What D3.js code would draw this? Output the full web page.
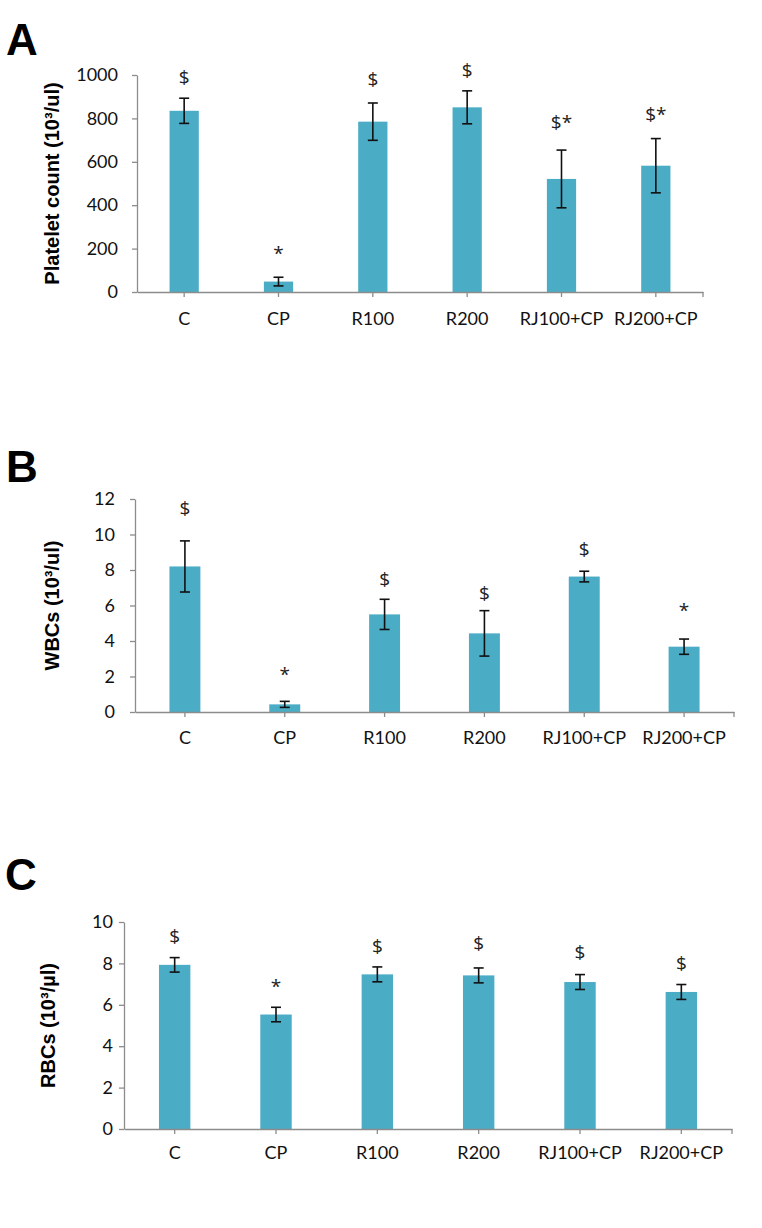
<!DOCTYPE html>
<html lang="en">
<head>
<meta charset="UTF-8">
<title>Platelets, WBCs and RBCs</title>
<script src="https://cdn.jsdelivr.net/npm/d3@7"></script>
<style>
  body { margin: 0; background: #fff; }
  svg { display: block; }
</style>
</head>
<body>
<script>
// groups on every x axis
const categories = ["C", "CP", "R100", "R200", "RJ100+CP", "RJ200+CP"];

// panel A: platelet count
const plateletMean = [835, 48, 785, 851, 521, 582];
const plateletErr = [58, 20, 86, 76, 133, 125];
const plateletMarks = ["$", "*", "$", "$", "$*", "$*"];
const plateletMarkAt = [991, 194, 982, 1023, 783, 820];
const plateletTicks = [0, 200, 400, 600, 800, 1000];

// panel B: WBCs
const wbcMean = [8.2, 0.43, 5.5, 4.43, 7.63, 3.68];
const wbcErr = [1.44, 0.17, 0.85, 1.28, 0.3, 0.43];
const wbcMarks = ["$", "*", "$", "$", "$", "*"];
const wbcMarkAt = [11.5, 2.36, 7.5, 6.7, 9.19, 5.92];
const wbcTicks = [0, 2, 4, 6, 8, 10, 12];

// panel C: RBCs
const rbcMean = [7.93, 5.53, 7.47, 7.42, 7.1, 6.62];
const rbcErr = [0.35, 0.35, 0.36, 0.36, 0.36, 0.36];
const rbcMarks = ["$", "*", "$", "$", "$", "$"];
const rbcMarkAt = [9.3, 7.07, 8.82, 8.95, 8.51, 7.98];
const rbcTicks = [0, 2, 4, 6, 8, 10];

const width = 762, height = 1228;
const barColor = "#4BACC6";
const axisColor = "#8C8C8C";

const svg = d3.select("body").append("svg")
    .attr("width", width)
    .attr("height", height);

const panels = [
    {letter: "A", letterX: 6, letterY: 55, title: "Platelet count (10³/ul)", titleX: 52,
     left: 137, right: 703, top: 75, bottom: 292, pad: 14, labelPad: 15,
     mean: plateletMean, err: plateletErr, marks: plateletMarks, markAt: plateletMarkAt, ticks: plateletTicks},
    {letter: "B", letterX: 6, letterY: 482, title: "WBCs (10³/ul)", titleX: 52,
     left: 135, right: 734, top: 499, bottom: 712, pad: 15, labelPad: 14,
     mean: wbcMean, err: wbcErr, marks: wbcMarks, markAt: wbcMarkAt, ticks: wbcTicks},
    {letter: "C", letterX: 5, letterY: 890, title: "RBCs (10³/µl)", titleX: 48,
     left: 124, right: 732, top: 922, bottom: 1129, pad: 6, labelPad: 12,
     mean: rbcMean, err: rbcErr, marks: rbcMarks, markAt: rbcMarkAt, ticks: rbcTicks}
];

panels.forEach(p => {
    const x = d3.scaleBand().domain(categories).range([p.left, p.right]);
    const y = d3.scaleLinear().domain([0, d3.max(p.ticks)]).range([p.bottom, p.top]);
    const barW = x.bandwidth() * 0.31;
    const cx = c => x(c) + x.bandwidth() / 2;
    const rows = categories.map((c, i) => ({c, mean: p.mean[i], err: p.err[i], mark: p.marks[i], at: p.markAt[i]}));

    const g = svg.append("g");

    // panel letter
    g.append("text")
        .attr("x", p.letterX)
        .attr("y", p.letterY)
        .style("font-family", "Liberation Sans, Arial, sans-serif")
        .style("font-weight", "bold")
        .style("font-size", "44px")
        .text(p.letter);

    // bars
    g.selectAll("rect.bar")
        .data(rows)
        .enter()
        .append("rect")
        .attr("class", "bar")
        .attr("x", d => cx(d.c) - barW / 2)
        .attr("y", d => y(d.mean))
        .attr("width", barW)
        .attr("height", d => y(0) - y(d.mean))
        .attr("fill", barColor);

    // error bars
    const eb = g.selectAll("g.err")
        .data(rows)
        .enter()
        .append("g")
        .attr("class", "err")
        .attr("stroke", "#111")
        .attr("stroke-width", 1.6);
    eb.append("line")
        .attr("x1", d => cx(d.c)).attr("x2", d => cx(d.c))
        .attr("y1", d => y(d.mean + d.err)).attr("y2", d => y(d.mean - d.err));
    eb.append("line")
        .attr("x1", d => cx(d.c) - 5).attr("x2", d => cx(d.c) + 5)
        .attr("y1", d => y(d.mean + d.err)).attr("y2", d => y(d.mean + d.err));
    eb.append("line")
        .attr("x1", d => cx(d.c) - 5).attr("x2", d => cx(d.c) + 5)
        .attr("y1", d => y(d.mean - d.err)).attr("y2", d => y(d.mean - d.err));

    // significance marks
    g.selectAll("text.mark")
        .data(rows)
        .enter()
        .append("text")
        .attr("class", "mark")
        .attr("x", d => cx(d.c))
        .attr("y", d => y(d.at))
        .attr("dy", d => d.mark === "*" ? "0.55em" : "0.35em")
        .attr("text-anchor", "middle")
        .style("font-family", "Open Sans, sans-serif")
        .style("font-size", "19px")
        .attr("fill", "#222")
        .text(d => d.mark);

    // y axis
    const ya = g.append("g")
        .attr("transform", `translate(${p.left},0)`)
        .call(d3.axisLeft(y).tickValues(p.ticks).tickFormat(d3.format("d"))
            .tickSize(5).tickSizeOuter(0).tickPadding(p.pad));

    // x axis
    const xa = g.append("g")
        .attr("transform", `translate(0,${p.bottom})`)
        .call(d3.axisBottom(x).tickSize(5).tickSizeOuter(0).tickPadding(p.labelPad));
    xa.append("line")
        .attr("x1", x.range()[1]).attr("x2", x.range()[1])
        .attr("y1", 0).attr("y2", 5);

    [ya, xa].forEach(a => {
        a.selectAll("path, line").attr("stroke", axisColor).attr("stroke-width", 1.3);
        a.selectAll("text")
            .attr("fill", "#111")
            .style("font-family", "Lato, sans-serif");
    });
    ya.selectAll("text").style("font-size", "18px");
    xa.selectAll("text").style("font-size", "18px");

    // y title
    g.append("text")
        .attr("transform", `translate(${p.titleX},${(p.top + p.bottom) / 2}) rotate(-90)`)
        .attr("text-anchor", "middle")
        .attr("dy", "0.35em")
        .style("font-family", "Liberation Sans, Arial, sans-serif")
        .style("font-weight", "bold")
        .style("font-size", "20px")
        .text(p.title);
});
</script>
</body>
</html>
